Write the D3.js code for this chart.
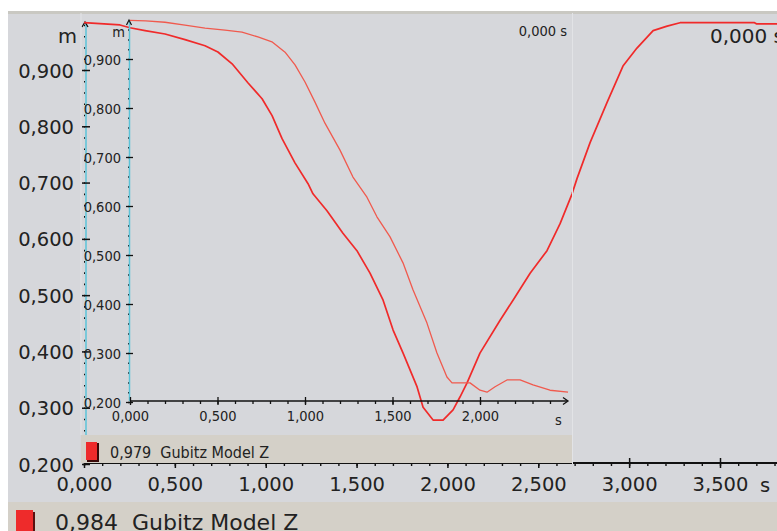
<!DOCTYPE html>
<html>
<head>
<meta charset="utf-8">
<script src="https://cdn.jsdelivr.net/npm/d3@7"></script>
<style>
  body { margin: 0; background: #fff; }
  svg { display: block; }
  .big { font-family: "DejaVu Sans", Verdana, sans-serif; fill: #222; }
  .small { font-family: "DejaVu Sans Condensed", "DejaVu Sans", sans-serif; font-stretch: condensed; fill: #222; }
</style>
</head>
<body>
<script>
// outer chart: Gubitz Model Z (time in s, position in m)
var outerT = [0, 0.198, 0.253, 0.336, 0.446, 0.556, 0.666, 0.737, 0.815, 0.903, 0.980, 1.035, 1.090, 1.161,
  1.233, 1.260, 1.337, 1.425, 1.502, 1.574, 1.646, 1.701, 1.756, 1.833, 1.866, 1.921, 1.976, 2.031, 2.069,
  2.108, 2.179, 2.289, 2.361, 2.455, 2.548, 2.620, 2.686, 2.713, 2.785, 2.878, 2.966, 3.043, 3.132, 3.209,
  3.280, 3.690, 3.700, 3.820];
var outerZ = [0.984, 0.980, 0.975, 0.970, 0.964, 0.954, 0.943, 0.932, 0.911, 0.877, 0.849, 0.819, 0.778, 0.735,
  0.698, 0.680, 0.650, 0.610, 0.579, 0.539, 0.491, 0.438, 0.397, 0.337, 0.301, 0.278, 0.278, 0.296, 0.319,
  0.344, 0.397, 0.455, 0.491, 0.539, 0.579, 0.627, 0.680, 0.707, 0.771, 0.842, 0.907, 0.939, 0.970, 0.978,
  0.984, 0.984, 0.982, 0.982];

// inset chart: Gubitz Model Z
var insetT = [0, 0.09, 0.2, 0.314, 0.429, 0.543, 0.64, 0.731, 0.811, 0.886, 0.943, 1.0, 1.057, 1.114, 1.2,
  1.274, 1.354, 1.411, 1.486, 1.56, 1.617, 1.697, 1.754, 1.811, 1.84, 1.943, 2.0, 2.04, 2.086, 2.154, 2.229,
  2.303, 2.4, 2.503];
var insetZ = [0.979, 0.978, 0.975, 0.969, 0.963, 0.959, 0.955, 0.945, 0.935, 0.914, 0.888, 0.853, 0.812, 0.769,
  0.714, 0.659, 0.618, 0.578, 0.537, 0.484, 0.429, 0.361, 0.300, 0.251, 0.239, 0.239, 0.224, 0.220, 0.231,
  0.245, 0.245, 0.235, 0.224, 0.220];

var yTicks = [0.2, 0.3, 0.4, 0.5, 0.6, 0.7, 0.8, 0.9];
var outerXTicks = [0, 0.5, 1, 1.5, 2, 2.5, 3, 3.5];
var insetXTicks = [0, 0.5, 1, 1.5, 2];
var outerLegend = "0,984  Gubitz Model Z";
var insetLegend = "0,979  Gubitz Model Z";
var cursorLabel = "0,000 s";

var fmt = function(d) { return d3.format(".3f")(d).replace(".", ","); };

var W = 777, H = 531;
var svg = d3.select("body").append("svg").attr("width", W).attr("height", H);

var bg = "#d6d7db", beige = "#d4d0c8";

// ---------- outer chart ----------
svg.append("rect").attr("x", 8).attr("y", 12).attr("width", W - 8).attr("height", 490).attr("fill", bg);
svg.append("rect").attr("x", 8).attr("y", 11).attr("width", W - 8).attr("height", 3).attr("fill", "#c9c8c2");
svg.append("rect").attr("x", 8).attr("y", 502).attr("width", W - 8).attr("height", 29).attr("fill", beige);

var ox = d3.scaleLinear().domain([0, 3.5]).range([84, 720]);
var oy = d3.scaleLinear().domain([0.2, 0.9]).range([464, 70]);

// outer y axis
var oyMinor = svg.append("g").attr("transform", "translate(84,0)")
  .call(d3.axisRight(oy).tickValues(d3.range(0.2, 0.99, 0.02)).tickSize(1).tickFormat(""));
oyMinor.select(".domain").remove();
oyMinor.selectAll("line").attr("stroke", "#111").attr("stroke-width", 1.6);

svg.append("line").attr("x1", 86).attr("x2", 86).attr("y1", 22).attr("y2", 463)
  .attr("stroke", "#5bc3d8").attr("stroke-width", 1.5);

var oyAxis = svg.append("g").attr("transform", "translate(84,0)")
  .call(d3.axisLeft(oy).tickValues(yTicks).tickFormat(fmt).tickSize(2).tickPadding(8));
oyAxis.select(".domain").remove();
oyAxis.selectAll(".tick line").attr("x1", -2).attr("x2", 6).attr("stroke", "#111").attr("stroke-width", 1.5);
oyAxis.selectAll("text").attr("class", "big").attr("font-size", 19.5).attr("dy", "0.36em");
svg.append("path").attr("d", "M82,27 L85,22 L88,27").attr("fill", "none").attr("stroke", "#111").attr("stroke-width", 1.3);
svg.append("text").attr("class", "big").attr("x", 77).attr("y", 43).attr("text-anchor", "end")
  .attr("font-size", 19.5).text("m");

// outer x axis
var oxMinor = svg.append("g").attr("transform", "translate(0,463)")
  .call(d3.axisBottom(ox).tickValues(d3.range(0, 3.85, 0.1)).tickSize(3).tickFormat(""));
oxMinor.select(".domain").remove();
oxMinor.selectAll("line").attr("stroke", "#111").attr("stroke-width", 1.4);

svg.append("line").attr("x1", 84).attr("x2", W).attr("y1", 463).attr("y2", 463)
  .attr("stroke", "#111").attr("stroke-width", 2);

var oxAxis = svg.append("g").attr("transform", "translate(0,463)")
  .call(d3.axisBottom(ox).tickValues(outerXTicks).tickFormat(fmt).tickSize(5).tickPadding(9));
oxAxis.select(".domain").remove();
oxAxis.selectAll(".tick line").attr("y1", -5).attr("stroke", "#111").attr("stroke-width", 1.5);
oxAxis.selectAll("text").attr("class", "big").attr("font-size", 19.5);
svg.append("text").attr("class", "big").attr("x", 760).attr("y", 492).attr("font-size", 19.5).text("s");

svg.append("text").attr("class", "big").attr("x", 710).attr("y", 43).attr("font-size", 20).text(cursorLabel);

// outer legend
svg.append("rect").attr("x", 18).attr("y", 512).attr("width", 17).attr("height", 22).attr("fill", "#5a1010");
svg.append("rect").attr("x", 16).attr("y", 510).attr("width", 17).attr("height", 22).attr("fill", "#ee2b2b");
svg.append("text").attr("class", "big").attr("x", 55).attr("y", 530).attr("font-size", 22)
  .attr("xml:space", "preserve").style("white-space", "pre").text(outerLegend);

// outer curve
var outerData = outerT.map(function(t, i) { return {t: t, z: outerZ[i]}; });
svg.append("path").datum(outerData)
  .attr("fill", "none").attr("stroke", "#f02a2a").attr("stroke-width", 1.7)
  .attr("stroke-linejoin", "round")
  .attr("d", d3.line().x(function(d) { return ox(d.t); }).y(function(d) { return oy(d.z); }));

// ---------- inset chart ----------
svg.append("line").attr("x1", 81).attr("x2", 81).attr("y1", 13).attr("y2", 435).attr("stroke", "#e2e3e6").attr("stroke-width", 1);
svg.append("line").attr("x1", 572.5).attr("x2", 572.5).attr("y1", 13).attr("y2", 464).attr("stroke", "#e2e3e6").attr("stroke-width", 1);
svg.append("rect").attr("x", 81).attr("y", 435).attr("width", 491).attr("height", 28).attr("fill", beige);

var ix = d3.scaleLinear().domain([0, 2]).range([130, 480]);
var iy = d3.scaleLinear().domain([0.2, 0.9]).range([402, 59]);

var iyMinor = svg.append("g").attr("transform", "translate(128,0)")
  .call(d3.axisRight(iy).tickValues(d3.range(0.2, 0.98, 0.02)).tickSize(1).tickFormat(""));
iyMinor.select(".domain").remove();
iyMinor.selectAll("line").attr("stroke", "#111").attr("stroke-width", 1.5);

svg.append("line").attr("x1", 129.5).attr("x2", 129.5).attr("y1", 22).attr("y2", 401)
  .attr("stroke", "#5bc3d8").attr("stroke-width", 1.5);

var iyAxis = svg.append("g").attr("transform", "translate(128,0)")
  .call(d3.axisLeft(iy).tickValues(yTicks).tickFormat(fmt).tickSize(2).tickPadding(5));
iyAxis.select(".domain").remove();
iyAxis.selectAll(".tick line").attr("x1", -2).attr("x2", 5).attr("stroke", "#111").attr("stroke-width", 1.3);
iyAxis.selectAll("text").attr("class", "small").attr("font-size", 14.5).attr("dy", "0.36em");
svg.append("path").attr("d", "M126.5,25 L129,20 L131.5,25").attr("fill", "none").attr("stroke", "#111").attr("stroke-width", 1.2);
svg.append("text").attr("class", "small").attr("x", 125).attr("y", 37).attr("text-anchor", "end")
  .attr("font-size", 14.5).text("m");

var ixMinor = svg.append("g").attr("transform", "translate(0,401)")
  .call(d3.axisBottom(ix).tickValues(d3.range(0, 2.45, 0.1)).tickSize(3).tickFormat(""));
ixMinor.select(".domain").remove();
ixMinor.selectAll("line").attr("stroke", "#111").attr("stroke-width", 1.3);

svg.append("line").attr("x1", 130).attr("x2", 567).attr("y1", 401).attr("y2", 401)
  .attr("stroke", "#111").attr("stroke-width", 1.6);
svg.append("path").attr("d", "M563,397.5 L568,401 L563,404.5").attr("fill", "none").attr("stroke", "#111").attr("stroke-width", 1.3);

var ixAxis = svg.append("g").attr("transform", "translate(0,401)")
  .call(d3.axisBottom(ix).tickValues(insetXTicks).tickFormat(fmt).tickSize(4).tickPadding(6));
ixAxis.select(".domain").remove();
ixAxis.selectAll(".tick line").attr("y1", -4).attr("stroke", "#111").attr("stroke-width", 1.3);
ixAxis.selectAll("text").attr("class", "small").attr("font-size", 14.5);
svg.append("text").attr("class", "small").attr("x", 555).attr("y", 425).attr("font-size", 14.5).text("s");

svg.append("text").attr("class", "small").attr("x", 567).attr("y", 36).attr("text-anchor", "end")
  .attr("font-size", 14.5).text(cursorLabel);

// inset legend
svg.append("rect").attr("x", 87).attr("y", 443).attr("width", 12).attr("height", 19).attr("fill", "#3a0a0a");
svg.append("rect").attr("x", 86).attr("y", 442).attr("width", 11).attr("height", 18).attr("fill", "#ee2b2b");
svg.append("text").attr("class", "small").attr("x", 110).attr("y", 458).attr("font-size", 16)
  .attr("xml:space", "preserve").style("white-space", "pre").text(insetLegend);

// inset curve
var insetData = insetT.map(function(t, i) { return {t: t, z: insetZ[i]}; });
svg.append("path").datum(insetData)
  .attr("fill", "none").attr("stroke", "#f05a4e").attr("stroke-width", 1.3)
  .attr("stroke-linejoin", "round")
  .attr("d", d3.line().x(function(d) { return ix(d.t); }).y(function(d) { return iy(d.z); }));
</script>
</body>
</html>
